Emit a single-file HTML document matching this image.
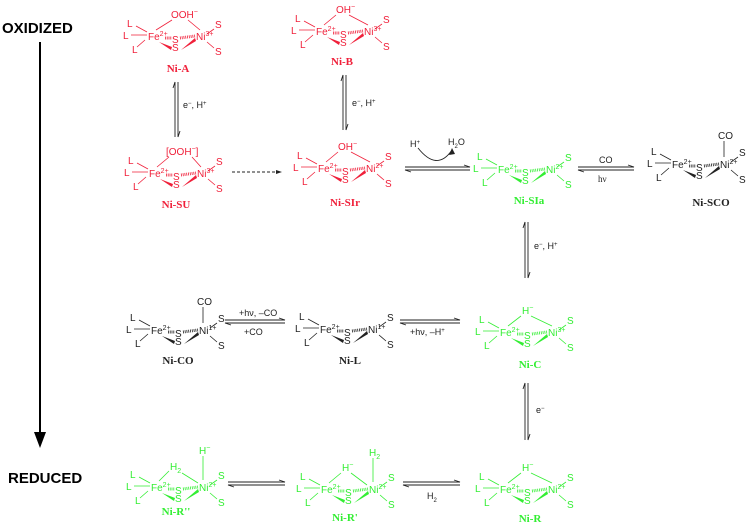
<!DOCTYPE html>
<html><head><meta charset="utf-8"><style>
body{margin:0;background:#fff}
svg{display:block;font-family:"Liberation Sans",sans-serif}
.m text{fill:currentColor;font-size:10px}
.m .s{stroke:currentColor;stroke-width:0.8;fill:none}
.m .h{stroke:currentColor;stroke-width:3;stroke-dasharray:0.8 1;fill:none}
.m polygon{fill:currentColor}
.r{color:#f0203a}.g{color:#33ee33}.k{color:#222}
.lb{font-family:"Liberation Serif",serif;font-weight:bold;font-size:11px;text-anchor:middle}
.a{stroke:#222;stroke-width:0.9;fill:none}
.t{font-size:9px;fill:#222}
</style></head><body>
<svg width="750" height="527" viewBox="0 0 750 527">
<text x="2" y="33" font-size="15" font-weight="bold" fill="#000">OXIDIZED</text>
<text x="8" y="483" font-size="15" font-weight="bold" fill="#000">REDUCED</text>
<line x1="40" y1="42" x2="40" y2="436" stroke="#000" stroke-width="2"/>
<polygon points="34,432 46,432 40,448" fill="#000"/>

<!-- Ni-A -->
<g class="m r" transform="translate(148,37)">
<path class="s" d="M-12,-11L-1,-5M-17,-2L-1,-2M-11,10L-3,3M59,-3L66,-8M59,5L66,11M8,-7L24,-17M40,-17L52,-7"/>
<line class="h" x1="17" y1="1" x2="24" y2="1"/><line class="h" x1="32" y1="1" x2="47" y2="-1"/>
<polygon points="11,5 24,10 23,13"/><polygon points="33,13 47,1 48,4"/>
<text x="-21" y="-10">L</text><text x="-25" y="2">L</text><text x="-16" y="16">L</text>
<text x="0" y="3">Fe<tspan dy="-4" font-size="7">2+</tspan></text>
<text x="24" y="6">S</text><text x="24" y="14">S</text>
<text x="48" y="3">Ni<tspan dy="-4" font-size="7">3+</tspan></text>
<text x="67" y="-9">S</text><text x="67" y="18">S</text>
<text x="23" y="-19">OOH<tspan dy="-4" font-size="7">−</tspan></text>
</g>
<text class="lb" x="178" y="72" fill="#f0203a">Ni-A</text>

<!-- Ni-B -->
<g class="m r" transform="translate(316,32)">
<path class="s" d="M-12,-11L-1,-5M-17,-2L-1,-2M-11,10L-3,3M59,-3L66,-8M59,5L66,11M8,-7L20,-17M33,-17L52,-7"/>
<line class="h" x1="17" y1="1" x2="24" y2="1"/><line class="h" x1="32" y1="1" x2="47" y2="-1"/>
<polygon points="11,5 24,10 23,13"/><polygon points="33,13 47,1 48,4"/>
<text x="-21" y="-10">L</text><text x="-25" y="2">L</text><text x="-16" y="16">L</text>
<text x="0" y="3">Fe<tspan dy="-4" font-size="7">2+</tspan></text>
<text x="24" y="6">S</text><text x="24" y="14">S</text>
<text x="48" y="3">Ni<tspan dy="-4" font-size="7">3+</tspan></text>
<text x="67" y="-9">S</text><text x="67" y="18">S</text>
<text x="20" y="-19">OH<tspan dy="-4" font-size="7">−</tspan></text>
</g>
<text class="lb" x="342" y="65" fill="#f0203a">Ni-B</text>

<!-- Ni-SU -->
<g class="m r" transform="translate(149,174)">
<path class="s" d="M-12,-11L-1,-5M-17,-2L-1,-2M-11,10L-3,3M59,-3L66,-8M59,5L66,11M8,-7L20,-17M43,-17L52,-7"/>
<line class="h" x1="17" y1="1" x2="24" y2="1"/><line class="h" x1="32" y1="1" x2="47" y2="-1"/>
<polygon points="11,5 24,10 23,13"/><polygon points="33,13 47,1 48,4"/>
<text x="-21" y="-10">L</text><text x="-25" y="2">L</text><text x="-16" y="16">L</text>
<text x="0" y="3">Fe<tspan dy="-4" font-size="7">2+</tspan></text>
<text x="24" y="6">S</text><text x="24" y="14">S</text>
<text x="48" y="3">Ni<tspan dy="-4" font-size="7">3+</tspan></text>
<text x="67" y="-9">S</text><text x="67" y="18">S</text>
<text x="17" y="-19">[OOH<tspan dy="-4" font-size="7">−</tspan><tspan dy="4">]</tspan></text>
</g>
<text class="lb" x="176" y="208" fill="#f0203a">Ni-SU</text>

<!-- Ni-SIr -->
<g class="m r" transform="translate(318,169)">
<path class="s" d="M-12,-11L-1,-5M-17,-2L-1,-2M-11,10L-3,3M59,-3L66,-8M59,5L66,11M8,-7L20,-17M33,-17L52,-7"/>
<line class="h" x1="17" y1="1" x2="24" y2="1"/><line class="h" x1="32" y1="1" x2="47" y2="-1"/>
<polygon points="11,5 24,10 23,13"/><polygon points="33,13 47,1 48,4"/>
<text x="-21" y="-10">L</text><text x="-25" y="2">L</text><text x="-16" y="16">L</text>
<text x="0" y="3">Fe<tspan dy="-4" font-size="7">2+</tspan></text>
<text x="24" y="6">S</text><text x="24" y="14">S</text>
<text x="48" y="3">Ni<tspan dy="-4" font-size="7">2+</tspan></text>
<text x="67" y="-9">S</text><text x="67" y="18">S</text>
<text x="20" y="-19">OH<tspan dy="-4" font-size="7">−</tspan></text>
</g>
<text class="lb" x="345" y="206" fill="#f0203a">Ni-SIr</text>

<!-- Ni-SIa -->
<g class="m g" transform="translate(498,170)">
<path class="s" d="M-12,-11L-1,-5M-17,-2L-1,-2M-11,10L-3,3M59,-3L66,-8M59,5L66,11"/>
<line class="h" x1="17" y1="1" x2="24" y2="1"/><line class="h" x1="32" y1="1" x2="47" y2="-1"/>
<polygon points="11,5 24,10 23,13"/><polygon points="33,13 47,1 48,4"/>
<text x="-21" y="-10">L</text><text x="-25" y="2">L</text><text x="-16" y="16">L</text>
<text x="0" y="3">Fe<tspan dy="-4" font-size="7">2+</tspan></text>
<text x="24" y="6">S</text><text x="24" y="14">S</text>
<text x="48" y="3">Ni<tspan dy="-4" font-size="7">2+</tspan></text>
<text x="67" y="-9">S</text><text x="67" y="18">S</text>
</g>
<text class="lb" x="529" y="204" fill="#33ee33">Ni-SIa</text>

<!-- Ni-SCO -->
<g class="m k" transform="translate(672,165)">
<path class="s" d="M-12,-11L-1,-5M-17,-2L-1,-2M-11,10L-3,3M59,-3L66,-8M59,5L66,11M52,-8L52,-24"/>
<line class="h" x1="17" y1="1" x2="24" y2="1"/><line class="h" x1="32" y1="1" x2="47" y2="-1"/>
<polygon points="11,5 24,10 23,13"/><polygon points="33,13 47,1 48,4"/>
<text x="-21" y="-10">L</text><text x="-25" y="2">L</text><text x="-16" y="16">L</text>
<text x="0" y="3">Fe<tspan dy="-4" font-size="7">2+</tspan></text>
<text x="24" y="6">S</text><text x="24" y="14">S</text>
<text x="48" y="3">Ni<tspan dy="-4" font-size="7">2+</tspan></text>
<text x="67" y="-9">S</text><text x="67" y="18">S</text>
<text x="46" y="-26">CO</text>
</g>
<text class="lb" x="711" y="206" fill="#222">Ni-SCO</text>

<!-- Ni-CO -->
<g class="m k" transform="translate(151,331)">
<path class="s" d="M-12,-11L-1,-5M-17,-2L-1,-2M-11,10L-3,3M59,-3L66,-8M59,5L66,11M52,-8L52,-24"/>
<line class="h" x1="17" y1="1" x2="24" y2="1"/><line class="h" x1="32" y1="1" x2="47" y2="-1"/>
<polygon points="11,5 24,10 23,13"/><polygon points="33,13 47,1 48,4"/>
<text x="-21" y="-10">L</text><text x="-25" y="2">L</text><text x="-16" y="16">L</text>
<text x="0" y="3">Fe<tspan dy="-4" font-size="7">2+</tspan></text>
<text x="24" y="6">S</text><text x="24" y="14">S</text>
<text x="48" y="3">Ni<tspan dy="-4" font-size="7">1+</tspan></text>
<text x="67" y="-9">S</text><text x="67" y="18">S</text>
<text x="46" y="-26">CO</text>
</g>
<text class="lb" x="178" y="364" fill="#222">Ni-CO</text>

<!-- Ni-L -->
<g class="m k" transform="translate(320,330)">
<path class="s" d="M-12,-11L-1,-5M-17,-2L-1,-2M-11,10L-3,3M59,-3L66,-8M59,5L66,11"/>
<line class="h" x1="17" y1="1" x2="24" y2="1"/><line class="h" x1="32" y1="1" x2="47" y2="-1"/>
<polygon points="11,5 24,10 23,13"/><polygon points="33,13 47,1 48,4"/>
<text x="-21" y="-10">L</text><text x="-25" y="2">L</text><text x="-16" y="16">L</text>
<text x="0" y="3">Fe<tspan dy="-4" font-size="7">2+</tspan></text>
<text x="24" y="6">S</text><text x="24" y="14">S</text>
<text x="48" y="3">Ni<tspan dy="-4" font-size="7">1+</tspan></text>
<text x="67" y="-9">S</text><text x="67" y="18">S</text>
</g>
<text class="lb" x="350" y="364" fill="#222">Ni-L</text>

<!-- Ni-C -->
<g class="m g" transform="translate(500,333)">
<path class="s" d="M-12,-11L-1,-5M-17,-2L-1,-2M-11,10L-3,3M59,-3L66,-8M59,5L66,11M8,-7L21,-17M31,-17L52,-7"/>
<line class="h" x1="17" y1="1" x2="24" y2="1"/><line class="h" x1="32" y1="1" x2="47" y2="-1"/>
<polygon points="11,5 24,10 23,13"/><polygon points="33,13 47,1 48,4"/>
<text x="-21" y="-10">L</text><text x="-25" y="2">L</text><text x="-16" y="16">L</text>
<text x="0" y="3">Fe<tspan dy="-4" font-size="7">2+</tspan></text>
<text x="24" y="6">S</text><text x="24" y="14">S</text>
<text x="48" y="3">Ni<tspan dy="-4" font-size="7">3+</tspan></text>
<text x="67" y="-9">S</text><text x="67" y="18">S</text>
<text x="22" y="-19">H<tspan dy="-4" font-size="7">−</tspan></text>
</g>
<text class="lb" x="530" y="368" fill="#33ee33">Ni-C</text>

<!-- Ni-R'' -->
<g class="m g" transform="translate(151,488)">
<path class="s" d="M-12,-11L-1,-5M-17,-2L-1,-2M-11,10L-3,3M59,-3L66,-8M59,5L66,11M8,-7L18,-17M31,-15L47,-5M52,-8L52,-32"/>
<line class="h" x1="17" y1="1" x2="24" y2="1"/><line class="h" x1="32" y1="1" x2="47" y2="-1"/>
<polygon points="11,5 24,10 23,13"/><polygon points="33,13 47,1 48,4"/>
<text x="-21" y="-10">L</text><text x="-25" y="2">L</text><text x="-16" y="16">L</text>
<text x="0" y="3">Fe<tspan dy="-4" font-size="7">2+</tspan></text>
<text x="24" y="6">S</text><text x="24" y="14">S</text>
<text x="48" y="3">Ni<tspan dy="-4" font-size="7">2+</tspan></text>
<text x="67" y="-9">S</text><text x="67" y="18">S</text>
<text x="19" y="-18">H<tspan dy="3" font-size="7">2</tspan></text>
<text x="48" y="-34">H<tspan dy="-4" font-size="7">−</tspan></text>
</g>
<text class="lb" x="176" y="515" fill="#33ee33">Ni-R''</text>

<!-- Ni-R' -->
<g class="m g" transform="translate(321,490)">
<path class="s" d="M-12,-11L-1,-5M-17,-2L-1,-2M-11,10L-3,3M59,-3L66,-8M59,5L66,11M8,-7L20,-17M30,-17L46,-5M52,-8L52,-32"/>
<line class="h" x1="17" y1="1" x2="24" y2="1"/><line class="h" x1="32" y1="1" x2="47" y2="-1"/>
<polygon points="11,5 24,10 23,13"/><polygon points="33,13 47,1 48,4"/>
<text x="-21" y="-10">L</text><text x="-25" y="2">L</text><text x="-16" y="16">L</text>
<text x="0" y="3">Fe<tspan dy="-4" font-size="7">2+</tspan></text>
<text x="24" y="6">S</text><text x="24" y="14">S</text>
<text x="48" y="3">Ni<tspan dy="-4" font-size="7">2+</tspan></text>
<text x="67" y="-9">S</text><text x="67" y="18">S</text>
<text x="21" y="-19">H<tspan dy="-4" font-size="7">−</tspan></text>
<text x="48" y="-34">H<tspan dy="3" font-size="7">2</tspan></text>
</g>
<text class="lb" x="345" y="521" fill="#33ee33">Ni-R'</text>

<!-- Ni-R -->
<g class="m g" transform="translate(500,490)">
<path class="s" d="M-12,-11L-1,-5M-17,-2L-1,-2M-11,10L-3,3M59,-3L66,-8M59,5L66,11M8,-7L21,-17M31,-17L52,-7"/>
<line class="h" x1="17" y1="1" x2="24" y2="1"/><line class="h" x1="32" y1="1" x2="47" y2="-1"/>
<polygon points="11,5 24,10 23,13"/><polygon points="33,13 47,1 48,4"/>
<text x="-21" y="-10">L</text><text x="-25" y="2">L</text><text x="-16" y="16">L</text>
<text x="0" y="3">Fe<tspan dy="-4" font-size="7">2+</tspan></text>
<text x="24" y="6">S</text><text x="24" y="14">S</text>
<text x="48" y="3">Ni<tspan dy="-4" font-size="7">2+</tspan></text>
<text x="67" y="-9">S</text><text x="67" y="18">S</text>
<text x="22" y="-19">H<tspan dy="-4" font-size="7">−</tspan></text>
</g>
<text class="lb" x="530" y="522" fill="#33ee33">Ni-R</text>

<g class="a">
<path d="M175,137V82l-2,6M178,82V137l2,-6"/>
<path d="M343,130V75l-2,6M346,75V130l2,-6"/>
<path d="M525,278V222l-2,6M528,222V278l2,-6"/>
<path d="M525,440V383l-2,6M528,383V440l2,-6"/>
<path d="M405,167H470l-6,-2M470,170H405l6,2"/>
<path d="M578,167H634l-6,-2M634,170H578l6,2"/>
<path d="M225,320H285l-6,-2M285,323H225l6,2"/>
<path d="M400,320H460l-6,-2M460,323H400l6,2"/>
<path d="M228,482H285l-6,-2M285,485H228l6,2"/>
<path d="M403,482H460l-6,-2M460,485H403l6,2"/>
<path d="M418,148Q437,172 452,150" />
<line x1="232" y1="172" x2="276" y2="172" stroke-dasharray="3 2"/>
</g>
<polygon points="452,148 449,155 455,154" fill="#222"/>
<polygon points="282,172 276,170 276,174" fill="#222"/>
<text class="t" x="183" y="108">e<tspan dy="-3" font-size="6">−</tspan><tspan dy="3">, H</tspan><tspan dy="-3" font-size="6">+</tspan></text>
<text class="t" x="352" y="106">e<tspan dy="-3" font-size="6">−</tspan><tspan dy="3">, H</tspan><tspan dy="-3" font-size="6">+</tspan></text>
<text class="t" x="534" y="249">e<tspan dy="-3" font-size="6">−</tspan><tspan dy="3">, H</tspan><tspan dy="-3" font-size="6">+</tspan></text>
<text class="t" x="536" y="413">e<tspan dy="-3" font-size="6">−</tspan></text>
<text class="t" x="410" y="147">H<tspan dy="-3" font-size="6">+</tspan></text>
<text class="t" x="448" y="145">H<tspan dy="3" font-size="6">2</tspan><tspan dy="-3">O</tspan></text>
<text class="t" x="599" y="163">CO</text>
<text class="t" x="598" y="182" font-family="Liberation Serif">hν</text>
<text class="t" x="239" y="316" font-size="8">+hν, –CO</text>
<text class="t" x="244" y="335" font-size="8">+CO</text>
<text class="t" x="410" y="335" font-size="8">+hν, –H<tspan dy="-3" font-size="6">+</tspan></text>
<text class="t" x="427" y="499">H<tspan dy="3" font-size="6">2</tspan></text>
</svg>
</body></html>
